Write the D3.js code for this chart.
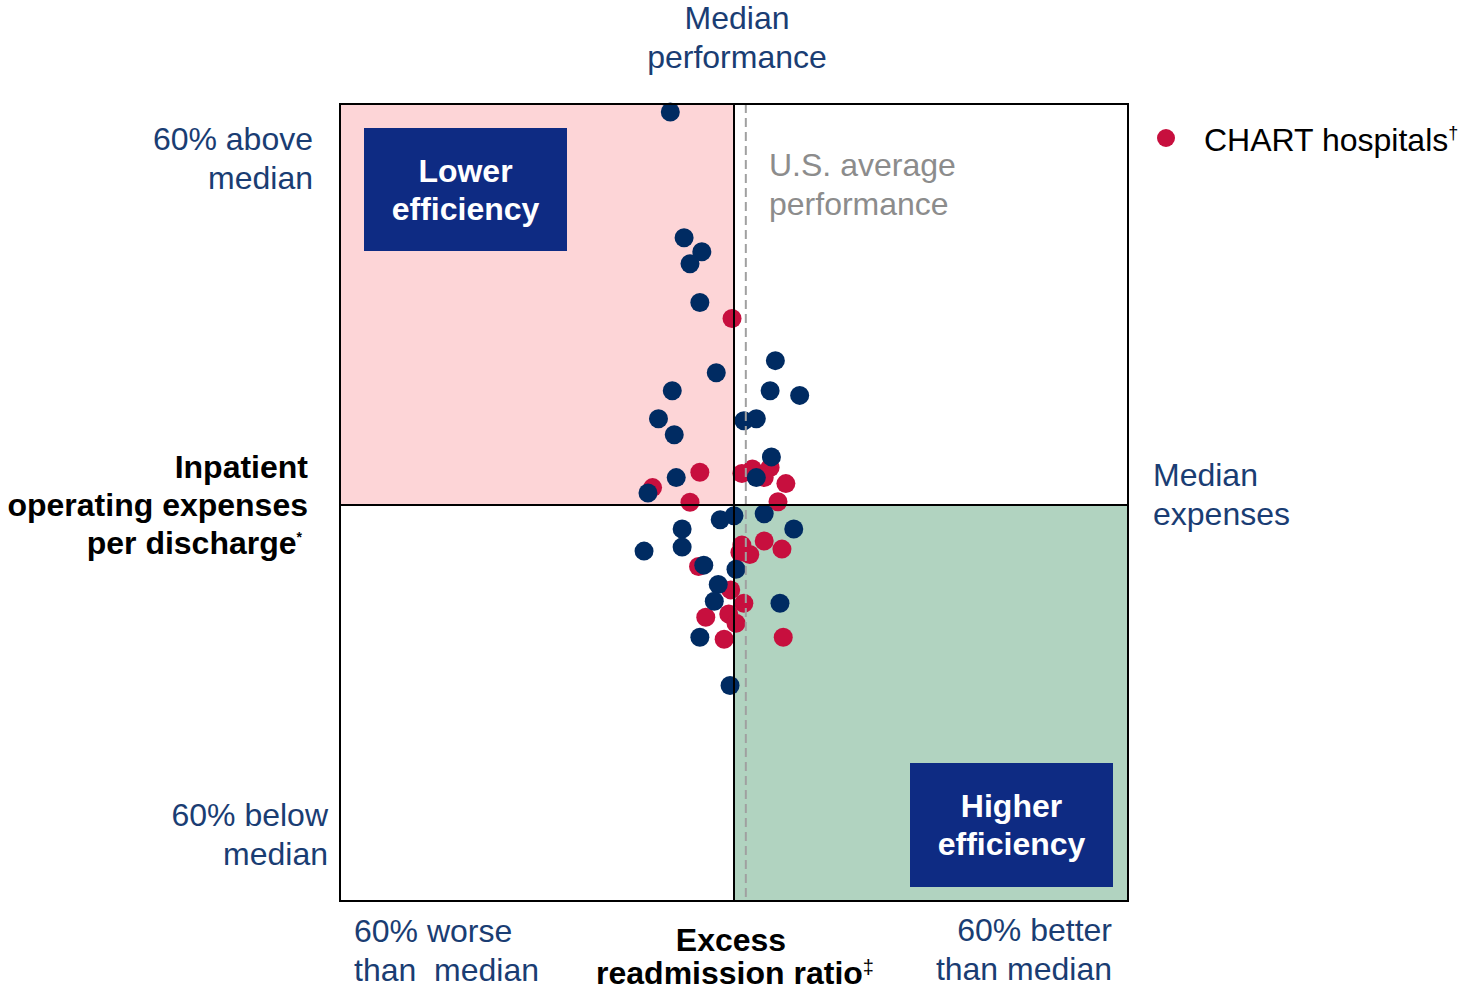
<!DOCTYPE html>
<html>
<head>
<meta charset="utf-8">
<script src="https://cdn.jsdelivr.net/npm/d3@7"></script>
<style>
  body { margin: 0; background: #fff; }
  text { font-family: "Liberation Sans", Arial, sans-serif; white-space: pre; }
</style>
</head>
<body>
<div id="chart"></div>
<script>
// % vs. median: x = readmission (positive = better), y = expenses (positive = above median)
var otherX = [-9.7, -7.6, -4.9, -6.7, -5.2, 6.3, -2.7, -9.4, 5.5, 10.0, -11.5, 1.5, 3.4, -9.1, 5.7, -8.8, 3.4, -13.1,
              -2.1, 0.0, 4.6, 9.1, -7.9, -13.7, -7.9, -4.6, 0.3, -2.4, -3.0, 7.0, -5.2, -0.6];
var otherY = [58.8, 40.0, 37.9, 36.1, 30.3, 21.6, 19.8, 17.1, 17.1, 16.4, 12.9, 12.6, 12.9, 10.5, 7.2, 4.1, 4.1, 1.8,
              -2.2, -1.6, -1.3, -3.6, -3.6, -6.9, -6.3, -9.0, -9.6, -11.9, -14.4, -14.7, -19.8, -27.0];
var chartX = [-0.3, -5.2, 1.2, 2.8, 5.5, 4.6, 7.9, -12.4, -6.7, 6.7, 1.2, 2.4, 0.9, 4.6, 7.3, -5.4, -0.5, 1.5, -0.8,
              -4.3, 0.3, -1.5, 7.5];
var chartY = [27.9, 4.9, 4.7, 5.4, 5.6, 4.1, 3.2, 2.6, 0.4, 0.5, -6.0, -7.4, -7.1, -5.4, -6.6, -9.2, -12.7, -14.7, -16.3,
              -16.8, -17.7, -20.1, -19.8];
var usAverageX = 1.8;
var xDomain = [-60, 60];
var yDomain = [-60, 60];

var width = 1459, height = 990;
var box = {left: 340, right: 1128, top: 104, bottom: 901};
var navy = "#1a3d73", dotBlue = "#002b62", dotRed = "#c70f3e", boxBlue = "#0e2b83";

var x = d3.scaleLinear().domain(xDomain).range([box.left, box.right]);
var y = d3.scaleLinear().domain(yDomain).range([906, box.top]);

var svg = d3.select("#chart").append("svg")
    .attr("width", width)
    .attr("height", height);

// quadrant fills
svg.append("rect")
    .attr("x", x(-60)).attr("y", box.top)
    .attr("width", x(0) - x(-60)).attr("height", y(0) - box.top)
    .attr("fill", "#fdd5d7");
svg.append("rect")
    .attr("x", x(0)).attr("y", y(0))
    .attr("width", x(60) - x(0)).attr("height", box.bottom - y(0))
    .attr("fill", "#b1d3c0");

// label boxes
function labelBox(bx, by, bw, bh, lines) {
  svg.append("rect").attr("x", bx).attr("y", by).attr("width", bw).attr("height", bh).attr("fill", boxBlue);
  var t = svg.append("text")
      .attr("x", bx + bw / 2).attr("text-anchor", "middle")
      .attr("fill", "#fff").attr("font-weight", "bold").attr("font-size", 32);
  lines.forEach(function(l, i) {
    t.append("tspan").attr("x", bx + bw / 2).attr("y", by + bh / 2 - 8 + i * 38).text(l);
  });
}
labelBox(364, 128, 203, 123, ["Lower", "efficiency"]);
labelBox(910, 763, 203, 124, ["Higher", "efficiency"]);

// dots
svg.append("g").selectAll("circle")
    .data(chartX.map(function(d, i) { return [d, chartY[i]]; }))
  .enter().append("circle")
    .attr("cx", function(d) { return x(d[0]); })
    .attr("cy", function(d) { return y(d[1]); })
    .attr("r", 9.5)
    .attr("fill", dotRed);
svg.append("g").selectAll("circle")
    .data(otherX.map(function(d, i) { return [d, otherY[i]]; }))
  .enter().append("circle")
    .attr("cx", function(d) { return x(d[0]); })
    .attr("cy", function(d) { return y(d[1]); })
    .attr("r", 9.5)
    .attr("fill", dotBlue);

// US average dashed line
svg.append("line")
    .attr("x1", x(usAverageX)).attr("x2", x(usAverageX))
    .attr("y1", box.top).attr("y2", box.bottom)
    .attr("stroke", "#a0a0a0").attr("stroke-width", 2)
    .attr("stroke-dasharray", "9,5");

// median lines
svg.append("line")
    .attr("x1", x(0)).attr("x2", x(0)).attr("y1", box.top).attr("y2", box.bottom)
    .attr("stroke", "#000").attr("stroke-width", 2);
svg.append("line")
    .attr("x1", box.left).attr("x2", box.right).attr("y1", y(0)).attr("y2", y(0))
    .attr("stroke", "#000").attr("stroke-width", 2);

// frame
svg.append("rect")
    .attr("x", box.left).attr("y", box.top)
    .attr("width", box.right - box.left).attr("height", box.bottom - box.top)
    .attr("fill", "none").attr("stroke", "#000").attr("stroke-width", 2);

// text helper
function multi(tx, ty, anchor, lines, opts) {
  opts = opts || {};
  var t = svg.append("text")
      .attr("text-anchor", anchor)
      .attr("font-size", opts.size || 32)
      .attr("font-weight", opts.bold ? "bold" : "normal")
      .attr("fill", opts.color || navy);
  lines.forEach(function(l, i) {
    t.append("tspan").attr("x", tx).attr("y", ty + i * (opts.lh || 38.5)).text(l);
  });
  return t;
}

multi(737, 29, "middle", ["Median", "performance"]);
multi(313, 150, "end", ["60% above", "median"]);
multi(328, 826, "end", ["60% below", "median"]);
multi(1153, 486, "start", ["Median", "expenses"], {lh: 39});
multi(769, 176, "start", ["U.S. average", "performance"], {color: "#8c8c8c"});
multi(354, 942, "start", ["60% worse", "than  median"], {lh: 39});
multi(1112, 941, "end", ["60% better", "than median"], {lh: 39});

// axis titles
var yt = multi(308, 478, "end", ["Inpatient", "operating expenses", "per discharge"], {bold: true, color: "#000", lh: 38});
yt.selectAll("tspan").filter(function(d, i) { return i === 2; })
    .attr("x", 302);
yt.append("tspan").attr("dy", -12).attr("font-size", 14).text("*");

var xt = multi(731, 951, "middle", ["Excess", "readmission ratio"], {bold: true, color: "#000", lh: 33});
xt.selectAll("tspan").filter(function(d, i) { return i === 1; }).attr("x", 735);
xt.append("tspan").attr("dy", -10).attr("font-size", 20).attr("font-weight", "normal").text("\u2021");

// legend
svg.append("circle").attr("cx", 1166).attr("cy", 138).attr("r", 9).attr("fill", dotRed);
var lg = multi(1204, 151, "start", ["CHART hospitals"], {color: "#000"});
lg.append("tspan").attr("dy", -12).attr("font-size", 18).text("\u2020");
</script>
</body>
</html>
